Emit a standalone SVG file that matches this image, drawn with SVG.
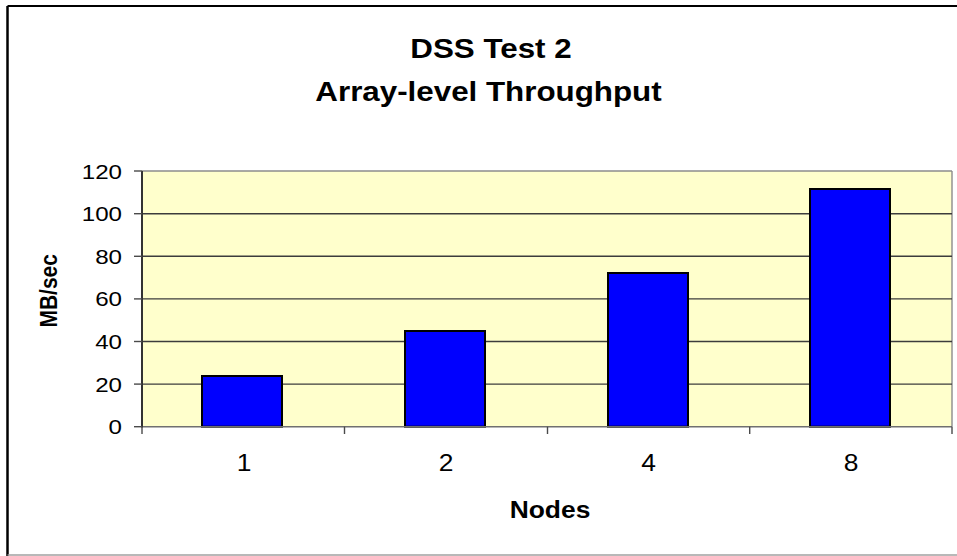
<svg xmlns="http://www.w3.org/2000/svg" width="957" height="556" viewBox="0 0 957 556">
  <style>
    .txt { font-family: "Liberation Sans", Arial, sans-serif; fill: #000; }
    .title { font-size: 28.5px; font-weight: bold; text-anchor: middle; }
    .ytick { font-size: 21px; text-anchor: end; }
    .xtick { font-size: 24px; text-anchor: middle; }
    .axt { font-weight: bold; text-anchor: middle; }
    .grid { stroke: #3c3c3c; stroke-width: 1.4; }
    .tick { stroke: #4a4a4a; stroke-width: 1.4; }
    .bar { fill: #0000FF; stroke: #000; stroke-width: 2; }
  </style>
  <rect x="0" y="0" width="957" height="556" fill="#fff"/>
  <g id="frame">
    <line x1="7.5" y1="6" x2="957" y2="6" stroke="#000" stroke-width="2.2"/>
    <line x1="7.5" y1="6" x2="7.5" y2="556" stroke="#000" stroke-width="2.5"/>
    <line x1="7.5" y1="555" x2="957" y2="555" stroke="#a0a0a0" stroke-width="1.4"/>
  </g>
  <g id="title" class="txt title">
    <text transform="translate(491,57.7) scale(1.1,1)" x="0" y="0">DSS Test 2</text>
    <text transform="translate(488.5,101) scale(1.1,1)" x="0" y="0">Array-level Throughput</text>
  </g>
  <g id="plot-area">
    <rect x="142" y="171" width="810" height="255.7" fill="#FFFFCC"/>
    <line x1="142" y1="171" x2="952" y2="171" stroke="#8c8c8c" stroke-width="1.4"/>
    <line x1="952" y1="171" x2="952" y2="426.7" stroke="#8c8c8c" stroke-width="1.4"/>
  </g>
  <g id="gridlines">
    <line class="grid" x1="142" y1="213.7" x2="952" y2="213.7"/>
    <line class="grid" x1="142" y1="256.3" x2="952" y2="256.3"/>
    <line class="grid" x1="142" y1="298.9" x2="952" y2="298.9"/>
    <line class="grid" x1="142" y1="341.5" x2="952" y2="341.5"/>
    <line class="grid" x1="142" y1="384.1" x2="952" y2="384.1"/>
  </g>
  <g id="bars">
    <rect id="bar-1" class="bar" x="202" y="376" width="80" height="50.7"/>
    <rect id="bar-2" class="bar" x="405" y="331" width="80" height="95.7"/>
    <rect id="bar-4" class="bar" x="608" y="273" width="80" height="153.7"/>
    <rect id="bar-8" class="bar" x="810" y="189" width="80" height="237.7"/>
  </g>
  <g id="axes">
    <line x1="142" y1="426.7" x2="952" y2="426.7" stroke="#707070" stroke-width="1.4"/>
    <line x1="142" y1="171" x2="142" y2="427.5" stroke="#333" stroke-width="2"/>
    <line class="tick" x1="134" y1="171" x2="142" y2="171"/>
    <line class="tick" x1="134" y1="213.7" x2="142" y2="213.7"/>
    <line class="tick" x1="134" y1="256.3" x2="142" y2="256.3"/>
    <line class="tick" x1="134" y1="298.9" x2="142" y2="298.9"/>
    <line class="tick" x1="134" y1="341.5" x2="142" y2="341.5"/>
    <line class="tick" x1="134" y1="384.1" x2="142" y2="384.1"/>
    <line class="tick" x1="134" y1="426.7" x2="142" y2="426.7"/>
    <line class="tick" x1="142" y1="426.7" x2="142" y2="434"/>
    <line class="tick" x1="344.5" y1="426.7" x2="344.5" y2="434"/>
    <line class="tick" x1="547.5" y1="426.7" x2="547.5" y2="434"/>
    <line class="tick" x1="749.7" y1="426.7" x2="749.7" y2="434"/>
    <line class="tick" x1="952" y1="426.7" x2="952" y2="434"/>
  </g>
  <g id="y-labels" class="txt ytick">
    <text transform="translate(122,178.5) scale(1.15,1)">120</text>
    <text transform="translate(122,221.2) scale(1.15,1)">100</text>
    <text transform="translate(122,263.8) scale(1.15,1)">80</text>
    <text transform="translate(122,306.4) scale(1.15,1)">60</text>
    <text transform="translate(122,349) scale(1.15,1)">40</text>
    <text transform="translate(122,391.6) scale(1.15,1)">20</text>
    <text transform="translate(122,434.2) scale(1.15,1)">0</text>
  </g>
  <g id="x-labels" class="txt xtick">
    <text transform="translate(244,471) scale(1.1,1)">1</text>
    <text transform="translate(446,471) scale(1.1,1)">2</text>
    <text transform="translate(648.5,471) scale(1.1,1)">4</text>
    <text transform="translate(851,471) scale(1.1,1)">8</text>
  </g>
  <g id="axis-titles" class="txt axt">
    <text transform="translate(550,518.3) scale(1.1,1)" style="font-size:24px">Nodes</text>
    <text transform="translate(56.7,290.8) rotate(-90) scale(1,1.12)" style="font-size:21px">MB/sec</text>
  </g>
</svg>
